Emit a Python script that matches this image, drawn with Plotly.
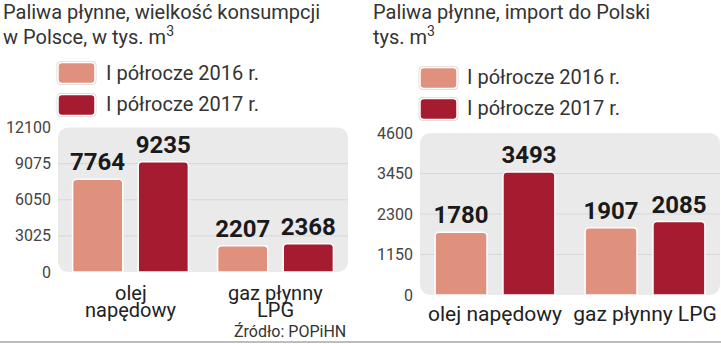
import plotly.graph_objects as go

W, H = 721, 344

# ---- data ----
series_names = ["I półrocze 2016 r.", "I półrocze 2017 r."]
series_colors = ["#E0917D", "#A51C30"]

cons_categories = ["olej\nnapędowy", "gaz płynny\nLPG"]
cons_2016 = [7764, 2207]
cons_2017 = [9235, 2368]
cons_ticks = [0, 3025, 6050, 9075, 12100]

imp_categories = ["olej napędowy", "gaz płynny LPG"]
imp_2016 = [1780, 1907]
imp_2017 = [3493, 2085]
imp_ticks = [0, 1150, 2300, 3450, 4600]

cons_title = ["Paliwa płynne, wielkość konsumpcji", "w Polsce, w tys. m<sup>3</sup>"]
imp_title = ["Paliwa płynne, import do Polski", "tys. m<sup>3</sup>"]
source = "Źródło: POPiHN"

FONT = "Roboto"
TXT = "#333333"
VALFONT = dict(family="Roboto", size=24, color="#1a1a1a", weight="bold")


def px_x(x):
    return x / W


def px_y(y):
    return (H - y) / H


def rrect(w, h, r):
    a, b = w / 2, h / 2
    return (f"M {-a + r},{-b} L {a - r},{-b} Q {a},{-b} {a},{-b + r} "
            f"L {a},{b - r} Q {a},{b} {a - r},{b} L {-a + r},{b} "
            f"Q {-a},{b} {-a},{b - r} L {-a},{-b + r} Q {-a},{-b} {-a + r},{-b} Z")


fig = go.Figure()

left_x = [c.replace("\n", " ") for c in cons_categories]
for name, vals, col in zip(series_names, [cons_2016, cons_2017], series_colors):
    fig.add_trace(go.Bar(
        x=left_x, y=vals, name=name, xaxis="x", yaxis="y",
        marker=dict(color=col, line=dict(color="white", width=1.5), cornerradius=4),
        texttemplate="%{y}", textposition="outside", textfont=VALFONT,
        constraintext="none", textangle=0, cliponaxis=False, showlegend=False,
    ))
for name, vals, col in zip(series_names, [imp_2016, imp_2017], series_colors):
    fig.add_trace(go.Bar(
        x=imp_categories, y=vals, name=name, xaxis="x2", yaxis="y2",
        marker=dict(color=col, line=dict(color="white", width=1.5), cornerradius=4),
        texttemplate="%{y}", textposition="outside", textfont=VALFONT,
        constraintext="none", textangle=0, cliponaxis=False, showlegend=False,
    ))

L = dict(x0=58, x1=348, y0=272, y1=127.5)
R = dict(x0=420, x1=720, y0=295, y1=133)

tickfont = dict(family=FONT, size=16, color="#444444")
fig.update_layout(
    width=W, height=H, margin=dict(l=0, r=0, t=0, b=0, pad=0, autoexpand=False),
    paper_bgcolor="white", plot_bgcolor="rgba(0,0,0,0)",
    barmode="group", bargap=0.095, bargroupgap=0.235,
    showlegend=False,
    xaxis=dict(domain=[px_x(L["x0"]), px_x(L["x1"])], anchor="y", automargin=False,
               range=[-0.5, 1.5], showticklabels=False, showgrid=False,
               zeroline=False, showline=False, fixedrange=True),
    yaxis=dict(domain=[px_y(L["y0"]), px_y(L["y1"])], anchor="x", automargin=False,
               range=[0, cons_ticks[-1]], tickvals=cons_ticks,
               ticktext=[str(t) for t in cons_ticks], tickfont=tickfont,
               showgrid=False, zeroline=False, showline=False, ticklabelstandoff=6),
    xaxis2=dict(domain=[px_x(R["x0"]), px_x(R["x1"])], anchor="y2", automargin=False,
                range=[-0.5, 1.5], showgrid=False, zeroline=False, showline=False,
                tickfont=dict(family=FONT, size=21, color="#222222"),
                ticklabelstandoff=4),
    yaxis2=dict(domain=[px_y(R["y0"]), px_y(R["y1"])], anchor="x2", automargin=False,
                range=[0, imp_ticks[-1]], tickvals=imp_ticks,
                ticktext=[str(t) for t in imp_ticks], tickfont=tickfont,
                showgrid=False, zeroline=False, showline=False, ticklabelstandoff=6),
)

shapes = []
# rounded grey plot backgrounds
for (xr, yr, box) in [("x domain", "y domain", L), ("x2 domain", "y2 domain", R)]:
    w = box["x1"] - box["x0"]
    h = box["y0"] - box["y1"]
    shapes.append(dict(type="path", xref=xr, yref=yr, xsizemode="pixel", ysizemode="pixel",
                       xanchor=0.5, yanchor=0.5, path=rrect(w, h, 12),
                       fillcolor="#EAEAEA", line=dict(width=0), layer="below"))
# gridlines
for ticks, xr, yr in [(cons_ticks, "x domain", "y"), (imp_ticks, "x2 domain", "y2")]:
    for t in ticks[1:-1]:
        shapes.append(dict(type="line", xref=xr, yref=yr, x0=0, x1=1, y0=t, y1=t,
                           line=dict(color="#D7D7D7", width=1), layer="below"))
# legend boxes
leg_boxes = [(76.5, 73, 105), (438.5, 78, 109)]
for cx, cy1, cy2 in leg_boxes:
    for cy, col in zip([cy1, cy2], series_colors):
        shapes.append(dict(type="path", xref="paper", yref="paper", xsizemode="pixel",
                           ysizemode="pixel", xanchor=px_x(cx), yanchor=px_y(cy),
                           path=rrect(40, 24, 5), fillcolor="#D9D9D9",
                           line=dict(width=0)))
        shapes.append(dict(type="path", xref="paper", yref="paper", xsizemode="pixel",
                           ysizemode="pixel", xanchor=px_x(cx), yanchor=px_y(cy),
                           path=rrect(37, 21, 4), fillcolor=col,
                           line=dict(color="white", width=1.5)))
# bottom rule
shapes.append(dict(type="line", xref="paper", yref="paper", x0=0, x1=1,
                   y0=px_y(342), y1=px_y(342), line=dict(color="#BDBDBD", width=2)))
fig.update_layout(shapes=shapes)

ann = []
# titles
for x0, lines in [(1, cons_title), (371, imp_title)]:
    for i, line in enumerate(lines):
        ann.append(dict(text=line, xref="paper", yref="paper", x=px_x(x0),
                        y=px_y(26.5 + 24 * i), xanchor="left", yanchor="bottom",
                        showarrow=False, font=dict(family=FONT, size=20, color=TXT)))
# legend texts
for tx, ys in [(104, (73.3, 103.5)), (465, (76.7, 108.3))]:
    for name, ty in zip(series_names, ys):
        ann.append(dict(text=name, xref="paper", yref="paper", x=px_x(tx),
                        y=px_y(ty), xanchor="left", yanchor="middle",
                        showarrow=False, font=dict(family=FONT, size=20, color=TXT)))
# left category labels (two lines, tight leading)
for cat, xcat in zip(cons_categories, left_x):
    for i, line in enumerate(cat.split("\n")):
        ann.append(dict(text=line, xref="x", yref="paper", x=xcat,
                        y=px_y(292.5 + 17 * i), xanchor="center", yanchor="middle",
                        showarrow=False, font=dict(family=FONT, size=20, color="#222222")))
# source
ann.append(dict(text=source, xref="paper", yref="paper", x=px_x(348), y=px_y(331.5),
                xanchor="right", yanchor="middle", showarrow=False,
                font=dict(family=FONT, size=16, color=TXT)))
fig.update_layout(annotations=ann)

fig.write_html("out.html")
